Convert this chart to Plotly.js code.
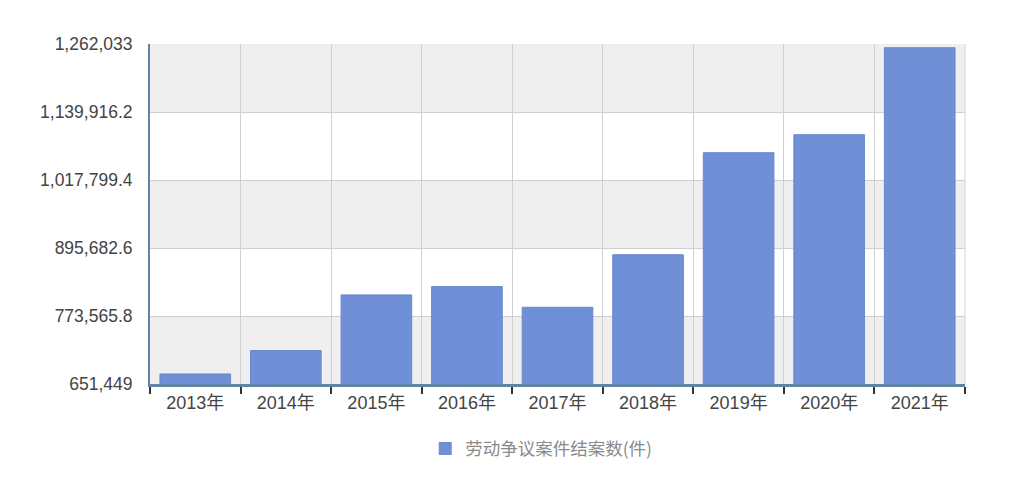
<!DOCTYPE html>
<html>
<head>
<meta charset="utf-8">
<script src="https://cdn.plot.ly/plotly-3.0.1.min.js"></script>
<style>html,body{margin:0;padding:0;background:#fff;}#chart{width:1025px;height:483px;}</style>
</head>
<body>
<div id="chart"></div>
<script>
const categories = ["2013年","2014年","2015年","2016年","2017年","2018年","2019年","2020年","2021年"];
const values = [669480, 711490, 811430, 826400, 789250, 883600, 1066830, 1099160, 1255400];
const seriesName = "劳动争议案件结案数(件)";
const tickVals = [651449, 773565.8, 895682.6, 1017799.4, 1139916.2, 1262033];
const tickText = ["651,449", "773,565.8", "895,682.6", "1,017,799.4", "1,139,916.2", "1,262,033"];

const font = "Liberation Sans, Arial, Noto Sans CJK SC, sans-serif";
const shapes = [];
for (let i = 0; i < tickVals.length - 1; i++) {
  if (i % 2 === 0) {
    shapes.push({type:"rect", xref:"paper", yref:"y", x0:0, x1:1, y0:tickVals[i], y1:tickVals[i+1],
      fillcolor:"#efeff0", line:{width:0}, layer:"below"});
  }
}
shapes.push({type:"line", xref:"paper", yref:"paper", x0:1, x1:1, y0:0, y1:1, line:{color:"#d4d4d4", width:1}, layer:"below"});

Plotly.newPlot("chart", [{
  type:"bar", x:categories, y:values, name:seriesName,
  marker:{color:"#6f8fd6", line:{color:"#6a88cc", width:1}},
  showlegend:true
}], {
  width:1025, height:483,
  margin:{l:150, r:60, t:44, b:99},
  paper_bgcolor:"#ffffff", plot_bgcolor:"#ffffff",
  bargap:0.22,
  font:{family:font, size:18, color:"#444"},
  xaxis:{type:"category", tickson:"boundaries", ticks:"outside", ticklen:7, tickwidth:2, tickcolor:"#333",
    showgrid:true, gridcolor:"#d0d0d0", gridwidth:1,
    showline:true, linecolor:"#5f84a6", linewidth:3,
    tickfont:{family:font, size:18, color:"#444"}},
  yaxis:{range:[651449, 1262033], tickvals:tickVals, ticktext:tickText, ticks:"",
    showgrid:true, gridcolor:"#cfcfcf", gridwidth:1, zeroline:false,
    showline:true, linecolor:"#5f84a6", linewidth:2, ticklabelstandoff:12,
    tickfont:{family:font, size:17.5, color:"#444"}},
  shapes:shapes,
  legend:{orientation:"h", x:0.48, xanchor:"center", y:-0.19, yanchor:"middle",
    font:{family:"Noto Sans CJK SC, sans-serif", size:17.5, color:"#8a8a8a"}},
}, {displayModeBar:false, staticPlot:true});
</script>
</body>
</html>
